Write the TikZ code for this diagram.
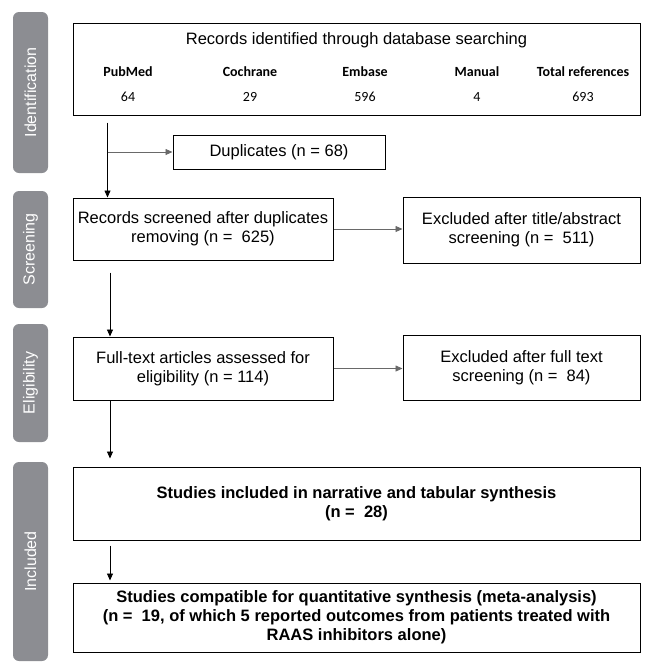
\documentclass[tikz,border=0pt]{standalone}
\usepackage{fontspec}
\setmainfont{Liberation Sans}
\newfontfamily\carlito{Carlito}
\usetikzlibrary{arrows.meta,positioning}
\definecolor{bargray}{RGB}{140,141,146}
\definecolor{linegray}{RGB}{105,105,105}
\tikzset{
  box/.style={rectangle, draw=black, line width=1pt, align=center, inner sep=2pt, font=\fontsize{16.5}{19}\selectfont},
  boldbox/.style={box, font=\fontsize{16.5}{19}\selectfont\bfseries},
  sidebar/.style={rectangle, rounded corners=6pt, fill=bargray, text=white, rotate=90, inner sep=0pt, minimum height=35pt, font=\fontsize{16}{18}\selectfont},
  head/.style={font=\carlito\fontsize{14}{16}\selectfont\bfseries},
  num/.style={font=\carlito\fontsize{14}{16}\selectfont},
  vline/.style={draw, line width=0.8pt, -{Triangle[length=7pt,width=6pt]}},
  hline/.style={vline, draw=linegray},
}
\begin{document}
\begin{tikzpicture}[x=1pt,y=-1pt]
  \useasboundingbox (0,0) rectangle (646,662);
  % side bars
  \node[sidebar, minimum width=161pt] (idbar) at (30.5,92.5) {Identification};
  \node[sidebar, minimum width=117pt] (scbar) at (30.5,249.5) {Screening};
  \node[sidebar, minimum width=118pt] (elbar) at (30.5,383) {Eligibility};
  \node[sidebar, minimum width=199pt] (inbar) at (30.5,561.5) {Included};
  % database search
  \node[box, minimum width=567pt, minimum height=92pt] (search) at (356.5,69) {};
  \node[font=\fontsize{16.5}{19}\selectfont] (title) at (356.5,40) {Records identified through database searching};
  \foreach \x/\name/\num [count=\i] in {128/PubMed/64, 250/Cochrane/29, 365/Embase/596, 477/Manual/4, 583/Total references/693}{
    \node[head] (h\i) at (\x,72) {\name};
    \node[num] (n\i) at (\x,97) {\num};
  }
  % flow boxes
  \node[box, minimum width=212pt, minimum height=34pt] (dup) at (279,152) {Duplicates (n = 68)};
  \node[box, minimum width=260pt, minimum height=62pt] (rec) at (203,229) {Records screened after duplicates\\removing (n = \ 625)};
  \node[box, minimum width=237pt, minimum height=66pt] (exc1) at (521.5,230) {Excluded after title/abstract\\screening (n = \ 511)};
  \node[box, minimum width=260pt, minimum height=63pt] (full) at (203,368.5) {Full-text articles assessed for\\eligibility (n = 114)};
  \node[box, minimum width=237pt, minimum height=65pt] (exc2) at (521.5,367.5) {Excluded after full text\\screening (n = \ 84)};
  \node[boldbox, minimum width=567pt, minimum height=73pt] (incl) at (356.5,503.5) {Studies included in narrative and tabular synthesis\\(n = \ 28)};
  \node[boldbox, minimum width=567pt, minimum height=69pt] (meta) at (356.5,617.5) {Studies compatible for quantitative synthesis (meta-analysis)\\(n = \ 19, of which 5 reported outcomes from patients treated with\\RAAS inhibitors alone)};
  % connectors
  \coordinate (s1) at (107.5,0);
  \coordinate (s2) at (110,0);
  \draw[vline, shorten <=7pt] (search.south -| s1) -- (rec.north -| s1);
  \draw[hline] (dup.west -| s1) -- (dup.west);
  \draw[hline] (rec.east) -- (rec.east -| exc1.west);
  \draw[vline, shorten <=12pt] (rec.south -| s2) -- (full.north -| s2);
  \draw[hline] (full.east) -- (full.east -| exc2.west);
  \draw[vline, shorten >=8pt] (full.south -| s2) -- (incl.north -| s2);
  \draw[vline, shorten <=5pt, shorten >=2pt] (incl.south -| s2) -- (meta.north -| s2);
\end{tikzpicture}
\end{document}
